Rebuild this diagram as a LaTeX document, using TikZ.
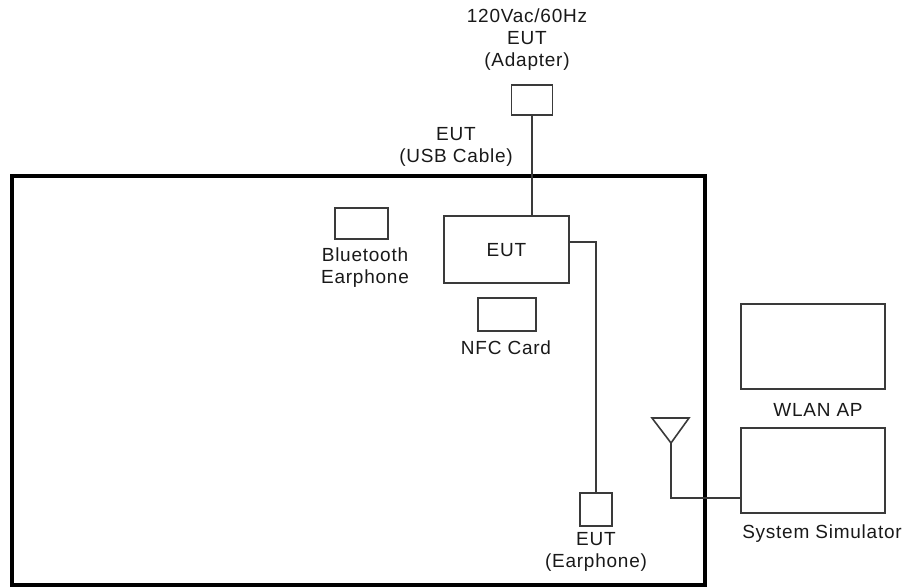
\documentclass[tikz,border=0pt]{standalone}
\usepackage{fontspec}
\setmainfont{Liberation Sans}[LetterSpace=4]
\definecolor{ln}{HTML}{3A3A3A}
\begin{document}
\begin{tikzpicture}[x=1pt,y=-1pt,
  box/.style={draw=ln,line width=1.6pt,inner sep=0pt,minimum width=#1},
  lbl/.style={inner sep=0pt,align=center,text=black!90,font=\fontsize{19}{22}\selectfont},
  wire/.style={draw=ln,line width=1.6pt}]
\useasboundingbox (0,0) rectangle (911,588);
\draw[line width=4pt,black] (12,176) rectangle (705,585);
% boxes
\node[box=41pt,minimum height=30pt] (adapter) at (532,100) {};
\node[box=125pt,minimum height=67pt] (EUT) at (506.5,249.5) {};
\node[lbl] (eutt) at (506.5,250) {EUT};
\node[box=53pt,minimum height=31pt] (bt) at (361.5,223.5) {};
\node[box=58pt,minimum height=33pt] (nfc) at (507,314.5) {};
\node[box=32pt,minimum height=33pt] (ear) at (596,509.5) {};
\node[box=144pt,minimum height=85pt] (wlan) at (813,346.5) {};
\node[box=144pt,minimum height=85pt] (sim) at (813,470.5) {};
% labels
\node[lbl] (l120) at (527,39.5) {120Vac/60Hz\\EUT\\(Adapter)};
\node[lbl] (lusb) at (456,147) {EUT\\(USB Cable)};
\node[lbl] (lbt) at (365,267.5) {Bluetooth\\Earphone};
\node[lbl] (lnfc) at (506,347.5) {NFC Card};
\node[lbl] (lear) at (596,551.5) {EUT\\(Earphone)};
\node[lbl] (lwlan) at (818,409.5) {WLAN AP};
\node[lbl] (lsim) at (822,533.5) {System Simulator};
% antenna
\coordinate (ant) at (671,443);
\coordinate (antfoot) at (671,498);
\draw[wire,line join=miter] (652,418) -- (689,418) -- (ant) -- cycle;
% connectors
\draw[wire] (adapter.south) -- (adapter.south |- EUT.north);
\draw[wire] ([yshift=7.5pt]EUT.east) -| (ear.north);
\draw[wire] (ant) -- (antfoot) -- (sim.west |- antfoot);
\end{tikzpicture}
\end{document}
